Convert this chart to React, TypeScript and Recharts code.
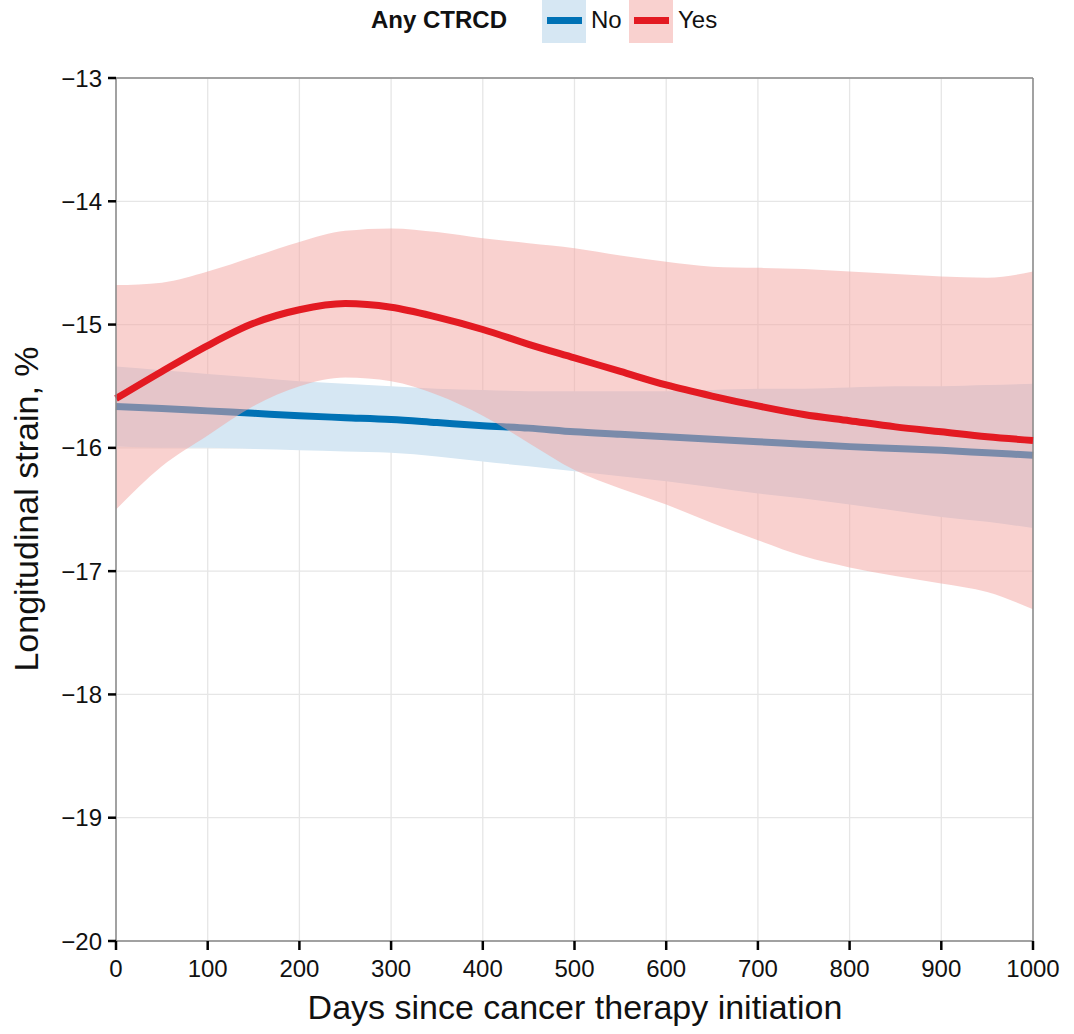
import React from "react";
import {
  Area,
  CartesianGrid,
  ComposedChart,
  Line,
  ReferenceLine,
  XAxis,
  YAxis,
} from "recharts";

// Datos (días 0..1000, cada 50)
const DAYS = [
  0, 50, 100, 150, 200, 250, 300, 350, 400, 450, 500, 550, 600, 650, 700, 750,
  800, 850, 900, 950, 1000,
];

// CTRCD = No
const NO_FIT = [
  -15.665, -15.68, -15.7, -15.72, -15.74, -15.755, -15.77, -15.795, -15.82,
  -15.84, -15.87, -15.89, -15.91, -15.93, -15.95, -15.97, -15.99, -16.005,
  -16.02, -16.04, -16.06,
];
const NO_UPPER = [
  -15.34, -15.37, -15.4, -15.43, -15.46, -15.48, -15.5, -15.52, -15.53, -15.54,
  -15.54, -15.54, -15.54, -15.53, -15.52, -15.52, -15.51, -15.5, -15.5, -15.49,
  -15.48,
];
const NO_LOWER = [
  -15.99, -16.0, -16.0, -16.01, -16.02, -16.03, -16.04, -16.07, -16.11, -16.15,
  -16.19, -16.23, -16.27, -16.32, -16.37, -16.41, -16.46, -16.51, -16.56,
  -16.6, -16.65,
];

// CTRCD = Yes
const YES_FIT = [
  -15.6, -15.38, -15.17, -14.99, -14.88, -14.83, -14.86, -14.94, -15.04,
  -15.16, -15.27, -15.38, -15.49, -15.58, -15.66, -15.73, -15.78, -15.83,
  -15.87, -15.91, -15.94,
];
const YES_UPPER = [
  -14.68, -14.66, -14.57, -14.45, -14.33, -14.24, -14.22, -14.25, -14.3,
  -14.34, -14.38, -14.44, -14.49, -14.53, -14.54, -14.55, -14.57, -14.59,
  -14.61, -14.62, -14.57,
];
const YES_LOWER = [
  -16.5, -16.15, -15.9, -15.66, -15.5, -15.43, -15.46, -15.57, -15.74, -15.96,
  -16.18, -16.33, -16.46, -16.61, -16.75, -16.88, -16.97, -17.04, -17.1,
  -17.17, -17.31,
];

const X_TICKS = [0, 100, 200, 300, 400, 500, 600, 700, 800, 900, 1000];
const Y_TICKS = [-20, -19, -18, -17, -16, -15, -14, -13];

const data = DAYS.map((d, i) => ({
  day: d,
  noFit: NO_FIT[i],
  noBand: [NO_LOWER[i], NO_UPPER[i]],
  yesFit: YES_FIT[i],
  yesBand: [YES_LOWER[i], YES_UPPER[i]],
}));

const FONT = "'Liberation Sans', Arial, Helvetica, sans-serif";
const BLUE = "#0072b5";
const RED = "#e31a22";

const fmtY = (v: number) => (v < 0 ? `\u2212${Math.abs(v)}` : String(v));

const App = () => {
  return (
    <div
      style={{
        position: "absolute",
        top: 0,
        left: 0,
        width: 1074,
        height: 1034,
        background: "#fff",
        fontFamily: FONT,
        overflow: "hidden",
      }}
    >
      {/* leyenda */}
      <div style={{ position: "absolute", top: 0, left: 0, width: 1074, height: 44 }}>
        <span
          style={{
            position: "absolute",
            left: 371,
            top: 6,
            fontSize: 24,
            fontWeight: "bold",
            color: "#111",
          }}
        >
          Any CTRCD
        </span>
        <div style={{ position: "absolute", left: 542, top: 0, width: 44, height: 43, background: "#d6e7f3" }}>
          <div style={{ position: "absolute", left: 5, top: 17, width: 35, height: 7, background: BLUE }} />
        </div>
        <span style={{ position: "absolute", left: 591, top: 6, fontSize: 24, color: "#111" }}>No</span>
        <div style={{ position: "absolute", left: 629, top: 0, width: 44, height: 43, background: "#f9d1cf" }}>
          <div style={{ position: "absolute", left: 5, top: 17, width: 35, height: 7, background: RED }} />
        </div>
        <span style={{ position: "absolute", left: 678, top: 6, fontSize: 24, color: "#111" }}>Yes</span>
      </div>

      <ComposedChart
        width={1074}
        height={1034}
        data={data}
        margin={{ top: 78, right: 41, bottom: 0, left: 0 }}
        style={{ fontFamily: FONT }}
      >
        <CartesianGrid stroke="#e6e6e6" strokeWidth={1.3} />
        <XAxis
          dataKey="day"
          type="number"
          domain={[0, 1000]}
          ticks={X_TICKS}
          height={93}
          tickSize={9}
          tickMargin={10}
          axisLine={{ stroke: "#888", strokeWidth: 1.5 }}
          tickLine={{ stroke: "#000", strokeWidth: 2.5 }}
          tick={{ fill: "#111", fontSize: 24 }}
          label={{
            content: () => (
              <text x={575} y={1019} textAnchor="middle" fontSize={34} fill="#111">
                Days since cancer therapy initiation
              </text>
            ),
          }}
        />
        <YAxis
          type="number"
          domain={[-20, -13]}
          ticks={Y_TICKS}
          width={116}
          allowDataOverflow
          tickSize={8}
          tickMargin={6}
          tickFormatter={fmtY}
          axisLine={{ stroke: "#888", strokeWidth: 1.5 }}
          tickLine={{ stroke: "#000", strokeWidth: 2.5 }}
          tick={{ fill: "#111", fontSize: 24 }}
          label={{
            content: () => (
              <text
                x={38}
                y={509}
                textAnchor="middle"
                fontSize={34}
                fill="#111"
                transform="rotate(-90 38 509)"
              >
                Longitudinal strain, %
              </text>
            ),
          }}
        />
        <ReferenceLine x={1000} stroke="#888" strokeWidth={1.5} />
        <ReferenceLine y={-13} stroke="#888" strokeWidth={1.5} />

        <Area
          dataKey="noBand"
          type="monotone"
          fill="#d6e7f3"
          fillOpacity={1}
          stroke="none"
          isAnimationActive={false}
          activeDot={false}
          zIndex={100}
        />
        <Line
          dataKey="noFit"
          type="monotone"
          stroke={BLUE}
          strokeWidth={7}
          dot={false}
          activeDot={false}
          isAnimationActive={false}
          zIndex={200}
        />
        <Area
          dataKey="yesBand"
          type="monotone"
          fill="rgb(243,163,159)"
          fillOpacity={0.5}
          stroke="none"
          isAnimationActive={false}
          activeDot={false}
          zIndex={300}
        />
        <Line
          dataKey="yesFit"
          type="monotone"
          stroke={RED}
          strokeWidth={7}
          dot={false}
          activeDot={false}
          isAnimationActive={false}
          zIndex={400}
        />
      </ComposedChart>
    </div>
  );
};

export default App;
